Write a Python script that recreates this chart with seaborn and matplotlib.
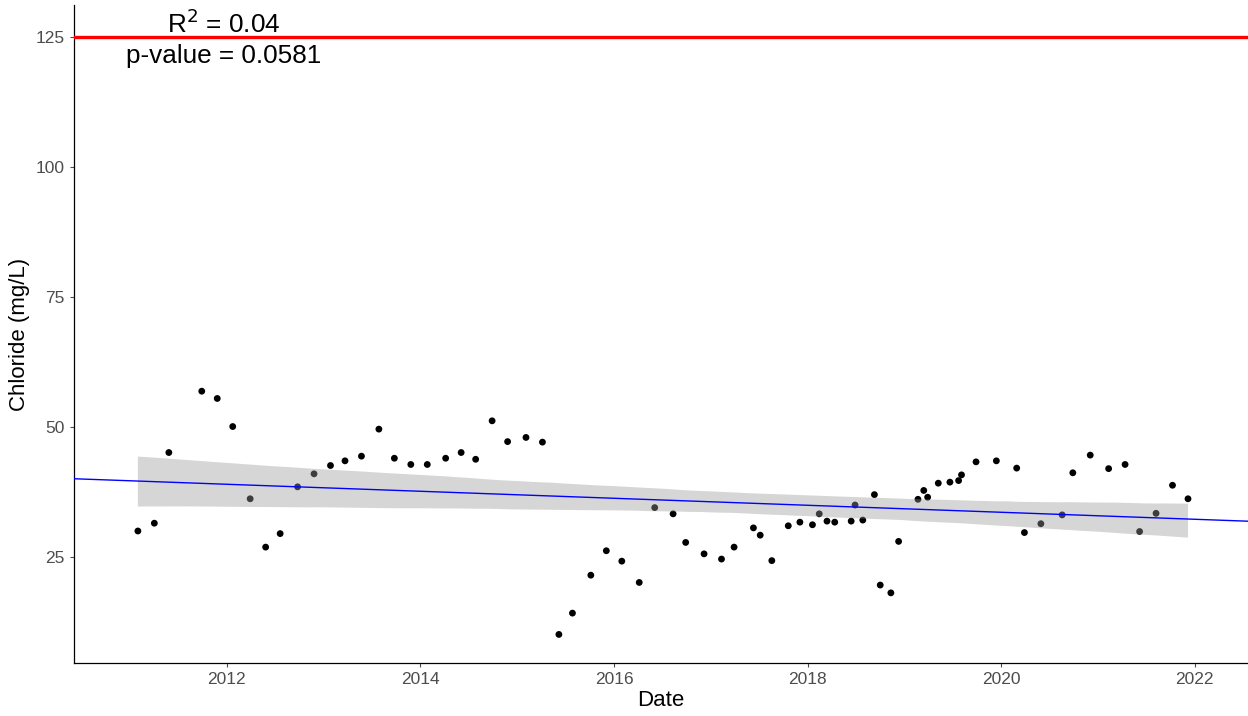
import pandas as pd
import matplotlib.pyplot as plt
import seaborn as sns

# sample dates (decimal years) and chloride values
dates = [2011.08, 2011.25, 2011.40, 2011.74, 2011.90, 2012.06, 2012.24, 2012.40, 2012.55, 2012.73,
         2012.90, 2013.07, 2013.22, 2013.39, 2013.57, 2013.73, 2013.90, 2014.07, 2014.26, 2014.42,
         2014.57, 2014.74, 2014.90, 2015.09, 2015.26, 2015.43, 2015.57, 2015.76, 2015.92, 2016.08,
         2016.26, 2016.42, 2016.61, 2016.74, 2016.93, 2017.11, 2017.24, 2017.44, 2017.51, 2017.63,
         2017.80, 2017.92, 2018.05, 2018.12, 2018.20, 2018.28, 2018.45, 2018.49, 2018.57, 2018.69,
         2018.75, 2018.86, 2018.94, 2019.14, 2019.20, 2019.24, 2019.35, 2019.47, 2019.56, 2019.59,
         2019.74, 2019.95, 2020.16, 2020.24, 2020.41, 2020.63, 2020.74, 2020.92, 2021.11, 2021.28,
         2021.43, 2021.60, 2021.77, 2021.93]
chloride = [30.0, 31.5, 45.1, 56.9, 55.5, 50.1, 36.2, 26.9, 29.5, 38.5,
            41.0, 42.6, 43.5, 44.4, 49.6, 44.0, 42.8, 42.8, 44.0, 45.1,
            43.8, 51.2, 47.2, 48.0, 47.1, 10.1, 14.2, 21.5, 26.2, 24.2,
            20.1, 34.5, 33.3, 27.8, 25.6, 24.6, 26.9, 30.6, 29.2, 24.3,
            31.0, 31.7, 31.2, 33.3, 31.9, 31.7, 31.9, 35.0, 32.1, 37.0,
            19.6, 18.1, 28.0, 36.1, 37.8, 36.5, 39.2, 39.4, 39.7, 40.8,
            43.3, 43.5, 42.1, 29.7, 31.4, 33.1, 41.2, 44.6, 42.0, 42.8,
            29.9, 33.4, 38.8, 36.2]
x_ticks = [2012, 2014, 2016, 2018, 2020, 2022]
y_ticks = [25, 50, 75, 100, 125]
limit = 125
r2_text = "R$^2$ = 0.04"
p_text = "p-value = 0.0581"

df = pd.DataFrame({"Date": dates, "Chloride": chloride})

sns.set_style("ticks")
plt.rcParams["font.family"] = ["Liberation Sans", "DejaVu Sans"]

fig = plt.figure(figsize=(12.48, 7.16), dpi=100)
ax = fig.add_axes([0.0593, 0.074, 0.9407, 0.919])
ax.set_xlim(2010.42, 2022.55)
ax.set_ylim(4.6, 131.2)

sns.scatterplot(data=df, x="Date", y="Chloride", color="black", s=24,
                edgecolor="none", ax=ax, zorder=2)

# confidence band only over the data range
sns.regplot(data=df, x="Date", y="Chloride", scatter=False, ci=95,
            truncate=True, color="#999999", line_kws={"alpha": 0}, ax=ax)
band = ax.collections[-1]
band.set_facecolor("#999999")
band.set_alpha(0.4)
band.set_edgecolor("none")
band.set_zorder(3)

# fitted line extended across the whole axis
sns.regplot(data=df, x="Date", y="Chloride", scatter=False, ci=None,
            truncate=False, color="blue", line_kws={"linewidth": 1.0, "zorder": 4}, ax=ax)

ax.axhline(limit, color="red", linewidth=2.4, zorder=5)

ax.text(2011.97, 127.6, r2_text, ha="center", va="center", fontsize=18.8, color="black", zorder=6)
ax.text(2011.97, 121.3, p_text, ha="center", va="center", fontsize=18.8, color="black", zorder=6)

ax.set_xticks(x_ticks)
ax.set_yticks(y_ticks)
ax.tick_params(axis="both", labelsize=12.5, colors="#4D4D4D", length=3, width=0.8)
ax.set_xlabel("Date", fontsize=16, color="black", labelpad=2)
ax.set_ylabel("Chloride (mg/L)", fontsize=16, color="black", labelpad=4)
for side in ["top", "right"]:
    ax.spines[side].set_visible(False)
for side in ["left", "bottom"]:
    ax.spines[side].set_color("black")
    ax.spines[side].set_linewidth(0.9)

fig.savefig("out.png", dpi=100)
